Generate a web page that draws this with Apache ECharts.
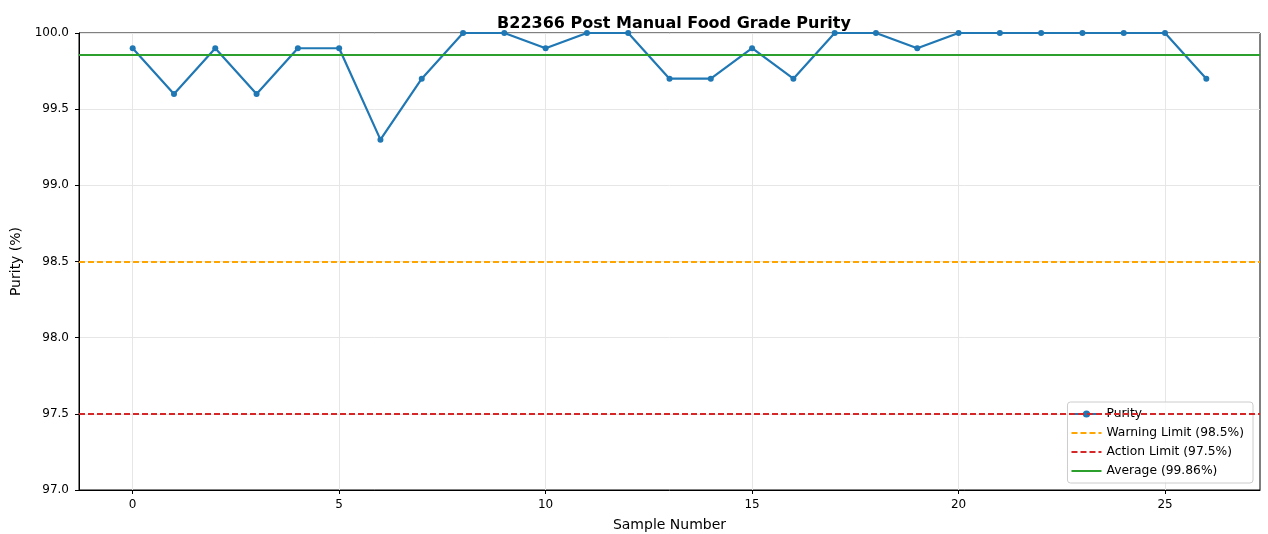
<!DOCTYPE html>
<html>
<head>
<meta charset="utf-8">
<script src="https://cdn.jsdelivr.net/npm/echarts@6/dist/echarts.min.js"></script>
<style>
  html, body { margin: 0; padding: 0; background: #fff; }
  #chart { width: 1268px; height: 534px; }
</style>
</head>
<body>
<div id="chart"></div>
<script>
// sample index 0..26
var samples = [0,1,2,3,4,5,6,7,8,9,10,11,12,13,14,15,16,17,18,19,20,21,22,23,24,25,26];
var purity = [99.9,99.6,99.9,99.6,99.9,99.9,99.3,99.7,100,100,99.9,100,100,99.7,99.7,99.9,99.7,100,100,99.9,100,100,100,100,100,100,99.7];
var xTicks = [0,5,10,15,20,25];
var warningLimit = 98.5;
var actionLimit = 97.5;

var avg = purity.reduce(function (a, b) { return a + b; }, 0) / purity.length;
var avgName = "Average (" + avg.toFixed(2) + "%)";
var font = "DejaVu Sans";

var chart = echarts.init(document.getElementById("chart"));

function limitSeries(name, value, color, dashed) {
  var ls = { color: color, width: 2, type: dashed ? [6, 3] : "solid" };
  return {
    name: name,
    type: "line",
    data: [],
    symbol: "none",
    lineStyle: ls,
    itemStyle: { color: color },
    markLine: {
      silent: true,
      symbol: "none",
      label: { show: false },
      animation: false,
      lineStyle: ls,
      data: [{ yAxis: value }]
    }
  };
}

chart.setOption({
  animation: false,
  title: {
    text: "B22366 Post Manual Food Grade Purity",
    left: 669,
    textAlign: "center",
    top: 11,
    textStyle: { fontFamily: font, fontSize: 16, fontWeight: "bold", color: "#000" }
  },
  grid: {
    left: 79, right: 8, top: 33, bottom: 44,
    outerBoundsMode: "none",
    show: true, borderColor: "#000", borderWidth: 1
  },
  legend: {
    orient: "vertical",
    right: 15, bottom: 51,
    itemWidth: 30, itemHeight: 9, itemGap: 7,
    padding: [6, 9, 6, 3],
    backgroundColor: "rgba(255,255,255,0.8)",
    borderColor: "#ccc", borderWidth: 1, borderRadius: 3,
    textStyle: { fontFamily: font, fontSize: 12.3, color: "#000" },
    data: [
      { name: "Purity" },
      { name: "Warning Limit (98.5%)", itemStyle: { opacity: 0 } },
      { name: "Action Limit (97.5%)", itemStyle: { opacity: 0 } },
      { name: avgName, itemStyle: { opacity: 0 } }
    ]
  },
  xAxis: {
    type: "value",
    min: -1.3, max: 27.3,
    name: "Sample Number",
    nameLocation: "middle",
    nameGap: 28,
    nameTextStyle: { fontFamily: font, fontSize: 14, color: "#000" },
    axisLine: { show: true, onZero: false, lineStyle: { color: "#000" } },
    axisTick: { show: true, length: 4, customValues: xTicks, lineStyle: { color: "#000" } },
    axisLabel: { customValues: xTicks, fontFamily: font, fontSize: 12, color: "#000", margin: 9 },
    splitLine: { show: true, lineStyle: { color: "#e6e6e6", width: 1 } }
  },
  yAxis: {
    type: "value",
    min: 97, max: 100,
    interval: 0.5,
    name: "Purity (%)",
    nameLocation: "middle",
    nameGap: 54,
    nameTextStyle: { fontFamily: font, fontSize: 14, color: "#000" },
    axisLine: { show: true, onZero: false, lineStyle: { color: "#000" } },
    axisTick: { show: true, length: 4, lineStyle: { color: "#000" } },
    axisLabel: {
      fontFamily: font, fontSize: 12, color: "#000", margin: 10,
      formatter: function (v) { return v.toFixed(1); }
    },
    splitLine: { show: true, lineStyle: { color: "#e6e6e6", width: 1 } }
  },
  series: [
    {
      name: "Purity",
      type: "line",
      data: samples.map(function (s, i) { return [s, purity[i]]; }),
      symbol: "circle",
      symbolSize: 6,
      clip: true,
      lineStyle: { color: "#1f77b4", width: 2.2 },
      itemStyle: { color: "#1f77b4" },
      z: 3
    },
    limitSeries("Warning Limit (98.5%)", warningLimit, "#ffa500", true),
    limitSeries("Action Limit (97.5%)", actionLimit, "#d62728", true),
    limitSeries(avgName, avg, "#2ca02c", false)
  ]
});
</script>
</body>
</html>
